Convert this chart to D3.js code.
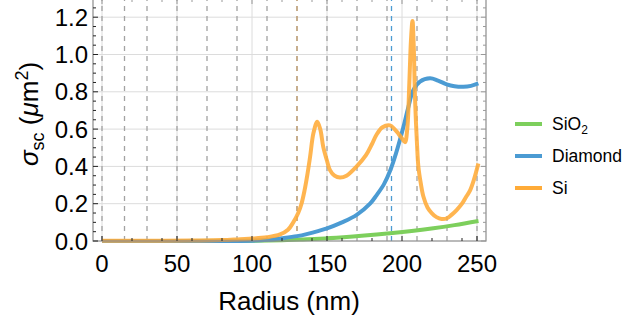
<!DOCTYPE html>
<html lang="en">
<head>
    <meta charset="utf-8">
    <title>Scattering cross section vs radius</title>
    <script src="https://d3js.org/d3.v7.min.js"></script>
    <style>
        body { margin: 0; background: white; }
        svg { display: block; font-family: "Liberation Sans", Arial, sans-serif; }
    </style>
</head>
<body>
<div id="chart"></div>
<script>

/* ------------------------------------------------------------
 *  Data
 * ------------------------------------------------------------ */
// Radius (nm) and cross section (um^2) for each material
var sio2_r = [0, 100, 120, 132, 145, 160.9, 175, 192, 205, 220.9, 235, 251];
var sio2_v = [0, 0.001, 0.004, 0.008, 0.012, 0.02, 0.029, 0.041, 0.052, 0.068, 0.085, 0.107];

var diamond_r = [0, 100, 110, 120, 130, 136.4, 150, 160, 169.8, 178.7, 183, 188, 192, 196, 200.9, 204, 207.6, 212, 218.7, 224, 229.8, 235, 240.9, 246, 250.9];
var diamond_v = [0, 0.002, 0.006, 0.015, 0.026, 0.037, 0.068, 0.1, 0.14, 0.2, 0.245, 0.305, 0.375, 0.47, 0.61, 0.71, 0.81, 0.855, 0.872, 0.86, 0.84, 0.83, 0.827, 0.832, 0.845];

var si_r = [0, 20, 40, 60, 80, 92, 100, 110, 118.7, 124, 127.5, 130.8, 133, 135, 137, 138.7, 141, 143.5, 145.5, 147.5, 150, 152, 155, 158.7, 163, 169.8, 176, 180, 183, 187, 192, 195, 197.5, 200, 202, 203.5, 204.9, 206, 207, 207.8, 208.7, 210, 210.9, 212.5, 214.2, 217, 219.8, 223, 226.4, 230, 233, 236.4, 240, 243, 245.3, 248, 250.9];
var si_v = [0.002, 0.002, 0.002, 0.003, 0.005, 0.01, 0.013, 0.02, 0.035, 0.06, 0.1, 0.15, 0.2, 0.27, 0.36, 0.45, 0.58, 0.64, 0.6, 0.505, 0.43, 0.38, 0.35, 0.34, 0.35, 0.4, 0.46, 0.52, 0.57, 0.61, 0.62, 0.6, 0.577, 0.55, 0.53, 0.6, 0.85, 1.08, 1.18, 1.05, 0.76, 0.52, 0.4, 0.31, 0.24, 0.18, 0.15, 0.128, 0.118, 0.122, 0.14, 0.166, 0.2, 0.24, 0.27, 0.33, 0.415];

// Dashed marker radii (nm)
var marker_gray = [0, 15, 30, 50, 70, 90, 110, 130, 150, 170, 190, 210, 230, 250];
var marker_si = [130];
var marker_diamond = [193];

// Axis ticks
var x_ticks = [0, 50, 100, 150, 200, 250];
var x_minor = [20, 40, 60, 80, 120, 140, 160, 180, 220, 240];
var y_ticks = [0, 0.2, 0.4, 0.6, 0.8, 1.0, 1.2];

// Series names and colours
var names = ["SiO2", "Diamond", "Si"];
var colors = ["#7dcf5c", "#4b9bd3", "#ffab38"];

/* ------------------------------------------------------------
 *  Setup
 * ------------------------------------------------------------ */
var width = 624, height = 323;
var x = d3.scaleLinear().domain([-6, 256]).range([93, 486]);
var y = d3.scaleLinear().domain([0, 1.2976]).range([241, -1]);

var svg = d3.select("#chart")
    .append("svg")
    .attr("width", width)
    .attr("height", height);

// Grid lines
var grid = svg.append("g").attr("stroke", "#dcdcdc").attr("stroke-width", 1);
grid.selectAll(".gx")
    .data(x_ticks)
    .enter()
    .append("line")
    .attr("x1", d => x(d)).attr("x2", d => x(d))
    .attr("y1", y.range()[0]).attr("y2", y.range()[1]);
grid.selectAll(".gy")
    .data(y_ticks.slice(1))
    .enter()
    .append("line")
    .attr("x1", x.range()[0]).attr("x2", x.range()[1])
    .attr("y1", d => y(d)).attr("y2", d => y(d));

// Dashed marker lines
function markers(data, color){
    svg.append("g")
        .selectAll("line")
        .data(data)
        .enter()
        .append("line")
        .attr("x1", d => x(d)).attr("x2", d => x(d))
        .attr("y1", y.range()[0]).attr("y2", y.range()[1])
        .attr("stroke", color)
        .attr("stroke-width", 1.3)
        .attr("stroke-dasharray", "5,5");
}
markers(marker_gray, "#a2a2a2");
markers(marker_si, "#c9a473");
markers(marker_diamond, "#4b9bd3");

// Curves
var line = d3.line()
    .x(d => x(d[0]))
    .y(d => y(d[1]))
    .curve(d3.curveCatmullRom.alpha(0.5));

var series = [
    d3.zip(sio2_r, sio2_v),
    d3.zip(diamond_r, diamond_v),
    d3.zip(si_r, si_v)
];
svg.append("g")
    .selectAll("path")
    .data(series)
    .enter()
    .append("path")
    .attr("d", line)
    .attr("fill", "none")
    .attr("stroke", (d, i) => colors[i])
    .attr("stroke-width", 4)
    .attr("stroke-opacity", (d, i) => i == 2 ? 0.88 : 1)
    .attr("stroke-linejoin", "round");

// Frame
var frame = svg.append("g").attr("stroke", "#8c8c8c").attr("stroke-width", 1.2);
frame.append("rect")
    .attr("x", x.range()[0]).attr("y", y.range()[1])
    .attr("width", x.range()[1] - x.range()[0])
    .attr("height", y.range()[0] - y.range()[1])
    .attr("fill", "none");

// Ticks on all four sides (pointing in)
var ticks = svg.append("g").attr("stroke", "#222").attr("stroke-width", 1);
x_ticks.concat(x_minor).forEach(function(t){
    let len = x_ticks.indexOf(t) >= 0 ? 5 : 3;
    ticks.append("line").attr("x1", x(t)).attr("x2", x(t)).attr("y1", y(0)).attr("y2", y(0) - len);
    ticks.append("line").attr("x1", x(t)).attr("x2", x(t)).attr("y1", y.range()[1]).attr("y2", y.range()[1] + len)
        .attr("stroke", "#999");
});
d3.range(0, 26).forEach(function(k){
    let v = k * 0.05;
    let len = k % 4 == 0 ? 5 : 3;
    ticks.append("line").attr("x1", x.range()[0]).attr("x2", x.range()[0] + len).attr("y1", y(v)).attr("y2", y(v));
    ticks.append("line").attr("x1", x.range()[1]).attr("x2", x.range()[1] - len).attr("y1", y(v)).attr("y2", y(v))
        .attr("stroke", "#999");
});

// Tick labels
svg.append("g")
    .selectAll("text")
    .data(x_ticks)
    .enter()
    .append("text")
    .attr("x", d => x(d))
    .attr("y", 272)
    .attr("text-anchor", "middle")
    .attr("font-size", 24)
    .text(d => d);
svg.append("g")
    .selectAll("text")
    .data(y_ticks)
    .enter()
    .append("text")
    .attr("x", 88)
    .attr("y", d => y(d))
    .attr("dy", "0.36em")
    .attr("text-anchor", "end")
    .attr("font-size", 24)
    .text(d => d.toFixed(1));

// Axis titles
svg.append("text")
    .attr("x", 289)
    .attr("y", 310)
    .attr("text-anchor", "middle")
    .attr("font-size", 26)
    .text("Radius (nm)");

var ytitle = svg.append("text")
    .attr("transform", "translate(38,114) rotate(-90)")
    .attr("text-anchor", "middle")
    .attr("font-size", 26);
ytitle.append("tspan").attr("font-style", "italic").text("σ");
ytitle.append("tspan").attr("font-size", 18).attr("dy", 6).text("sc");
ytitle.append("tspan").attr("dy", -6).text(" (");
ytitle.append("tspan").attr("font-style", "italic").text("μ");
ytitle.append("tspan").text("m");
ytitle.append("tspan").attr("font-size", 18).attr("dy", -10).text("2");
ytitle.append("tspan").attr("dy", 10).text(")");

// Legend
var legend = svg.append("g");
var leg_y = [124, 156, 188];
names.forEach(function(n, i){
    legend.append("line")
        .attr("x1", 515).attr("x2", 542)
        .attr("y1", leg_y[i]).attr("y2", leg_y[i])
        .attr("stroke", colors[i])
        .attr("stroke-width", 4);
    let t = legend.append("text")
        .attr("x", 552)
        .attr("y", leg_y[i] + 6)
        .attr("font-size", 17.5);
    if (n == "SiO2"){
        t.append("tspan").text("SiO");
        t.append("tspan").attr("font-size", 12).attr("dy", 4).text("2");
    } else {
        t.text(n);
    }
});

</script>
</body>
</html>
